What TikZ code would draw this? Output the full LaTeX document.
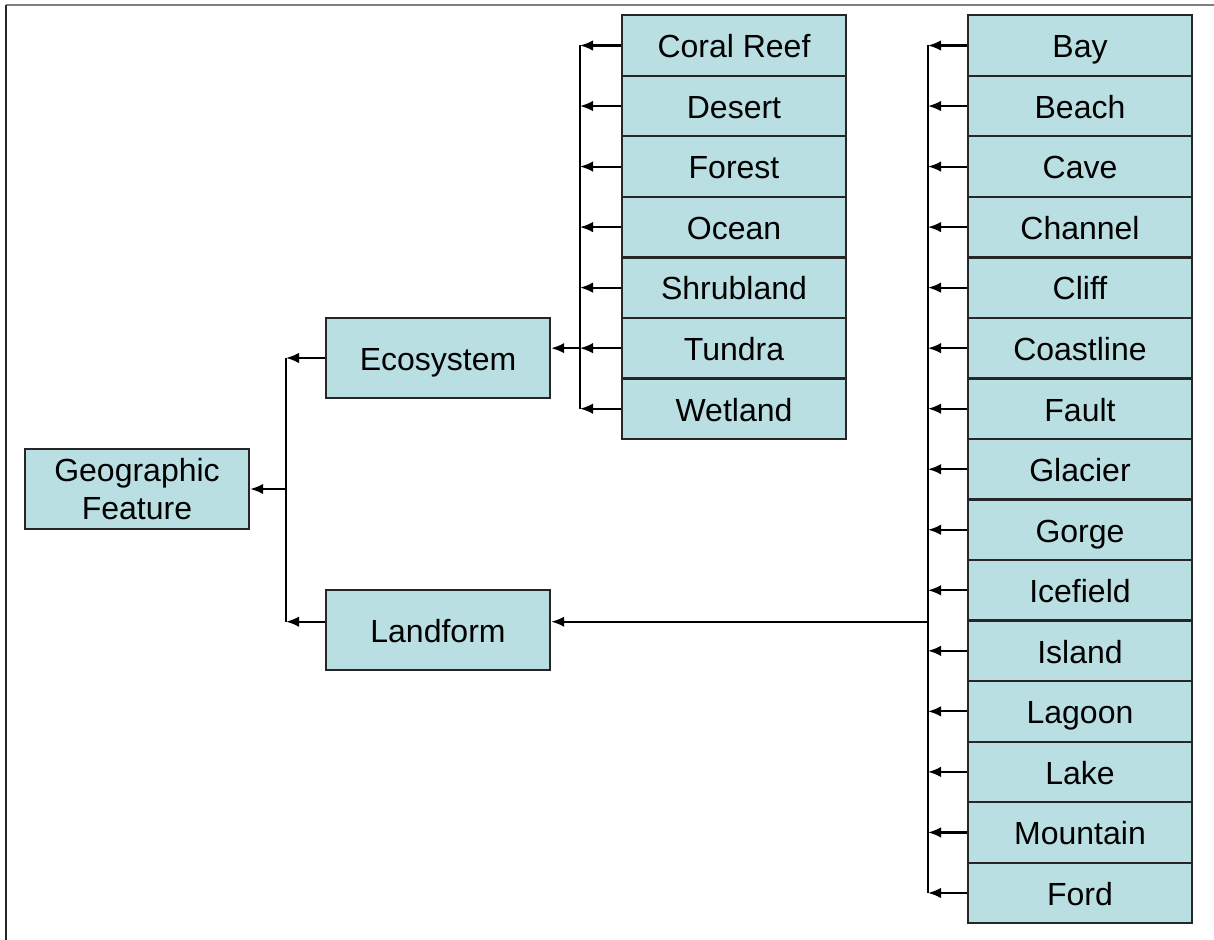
\documentclass[tikz,border=0pt]{standalone}
\usepackage{fontspec}
\setmainfont{Liberation Sans}
\usetikzlibrary{positioning,arrows.meta}
\definecolor{boxfill}{RGB}{185,223,227}
\tikzset{
  box/.style={draw=black!85, fill=boxfill, line width=0.65pt, minimum width=2.24cm,
    inner sep=0pt, align=center, font=\fontsize{9.1}{10.6}\selectfont},
  item/.style={box, minimum height=0.605cm, text height=0.72em, text depth=0.02em},
  group/.style={box, minimum height=0.8cm},
  link/.style={-{Latex[length=1.3mm,width=1.05mm]}, line width=0.6pt},
  bus/.style={line width=0.6pt},
}
\begin{document}
\begin{tikzpicture}[x=0.01cm,y=-0.01cm,node distance=0.605cm,on grid]
  \useasboundingbox (0,0) rectangle (1214,940);
  \draw[gray, line width=0.6pt] (6,5) -- (1214,5);
  \draw[black!85, line width=0.6pt] (6,5) -- (6,940);

  \node[group] (geo)  at (137,489) {Geographic\\Feature};
  \node[group, text height=0.72em, text depth=0.02em] (eco)  at (438,358) {Ecosystem};
  \node[group, text height=0.72em, text depth=0.02em] (land) at (438,630) {Landform};

  % ecosystem kinds
  \node[item] (e1) at (734,45.5) {Coral Reef};
  \foreach \t [count=\i from 2] in {Desert,Forest,Ocean,Shrubland,Tundra,Wetland} {
    \pgfmathtruncatemacro\j{\i-1}
    \node[item, below=of e\j] (e\i) {\t};
  }

  % landform kinds
  \node[item] (l1) at (1080,45.5) {Bay};
  \foreach \t [count=\i from 2] in {Beach,Cave,Channel,Cliff,Coastline,Fault,Glacier,
      Gorge,Icefield,Island,Lagoon,Lake,Mountain,Ford} {
    \pgfmathtruncatemacro\j{\i-1}
    \node[item, below=of l\j] (l\i) {\t};
  }

  \coordinate (gbus) at (286,0);
  \coordinate (ebus) at (580,0);
  \coordinate (lbus) at (928,0);

  \foreach \i in {1,...,7}
    \draw[link] (e\i.west) -- (ebus |- e\i.west);
  \draw[bus] (ebus |- e1.west) -- (ebus |- e7.west);
  \draw[link] (ebus |- e6.west) -- (eco.east |- e6.west);

  \foreach \i in {1,...,15}
    \draw[link] (l\i.west) -- (lbus |- l\i.west);
  \draw[bus] (lbus |- l1.west) -- (lbus |- l15.west);
  \draw[link] (lbus |- l10.south) -- (land.east |- l10.south);

  \draw[link] (eco.west) -- (gbus |- eco.west);
  \draw[link] (land.west |- l10.south) -- (gbus |- l10.south);
  \draw[bus] (gbus |- eco.west) -- (gbus |- l10.south);
  \draw[link] (gbus |- geo.east) -- (geo.east);
\end{tikzpicture}
\end{document}
